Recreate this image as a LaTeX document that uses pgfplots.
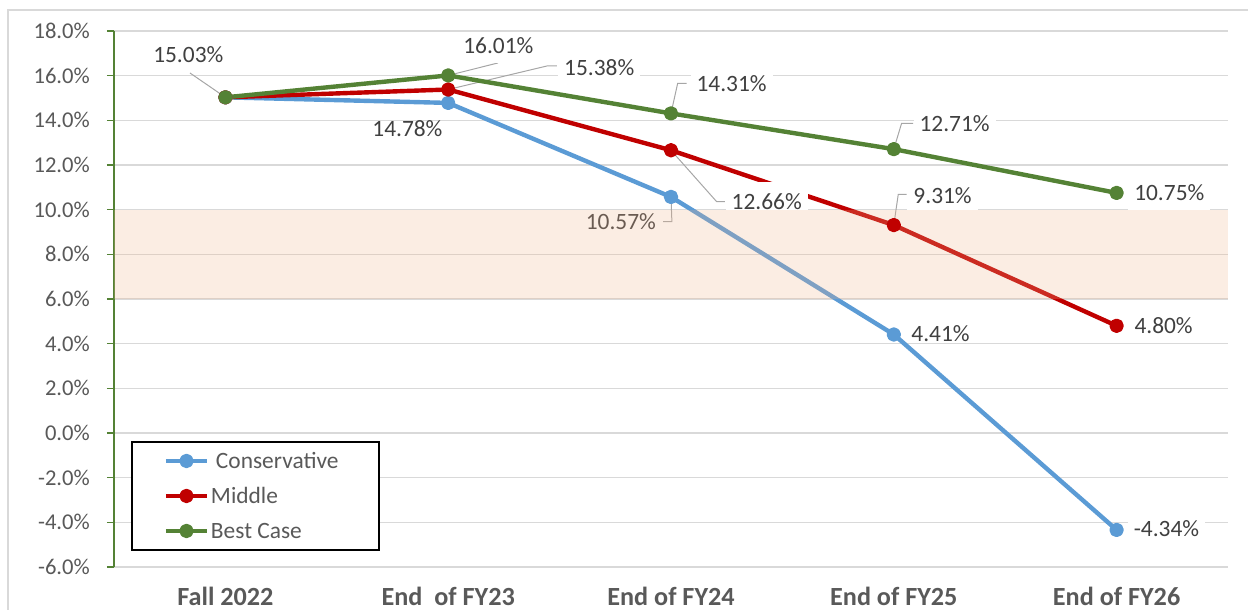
\documentclass[border=0pt]{standalone}
\usepackage{fontspec}
\setmainfont{Carlito}
\usepackage{pgfplots}
\pgfplotsset{compat=1.18}
\definecolor{cons}{HTML}{5B9BD5}
\definecolor{midc}{HTML}{C00000}
\definecolor{best}{HTML}{548235}
\definecolor{axgreen}{HTML}{548235}
\definecolor{gridgray}{HTML}{D9D9D9}
\definecolor{tickgray}{HTML}{595959}
\definecolor{labgray}{HTML}{404040}
\definecolor{leadgray}{HTML}{A6A6A6}
\definecolor{bandc}{RGB}{240,180,140}
\tikzset{
  dl/.style={fill=white, text=labgray, font=\fontsize{11.7pt}{14pt}\selectfont, inner xsep=3pt, inner ysep=0pt, text height=7.7pt, text depth=4.8pt, anchor=base, yshift=-3.7pt},
  dlb/.style={dl, text height=9.2pt},
  leader/.style={leadgray, line width=0.5pt},
}
\begin{document}
\begin{tikzpicture}
\path[use as bounding box] (-57pt,-21.5pt) rectangle (567pt,283.5pt);
\draw[gridgray, line width=0.75pt] (-53pt,-40pt) -- (-53pt,278.5pt) -- (620pt,278.5pt);
\begin{axis}[
  at={(0pt,0pt)}, anchor=south west,
  scale only axis, width=557pt, height=268pt,
  xmin=-0.5, xmax=4.5, ymin=-6, ymax=18,
  axis x line*=bottom, axis y line*=left,
  x axis line style={draw=none},
  y axis line style={draw=axgreen, line width=1pt},
  xtick={0,1,2,3,4},
  xticklabels={Fall 2022, End\ \ of FY23, End of FY24, End of FY25, End of FY26},
  xtick style={draw=none},
  xticklabel style={font=\fontsize{13.1pt}{15pt}\selectfont\bfseries, text=tickgray, anchor=base, inner sep=0pt, yshift=-15.85pt},
  ytick={-6,-4,...,18},
  ytick style={draw=axgreen, line width=0.75pt},
  tick align=outside, major tick length=3.5pt,
  yticklabel={\pgfmathprintnumber{\tick}\%},
  yticklabel style={font=\fontsize{11.3pt}{13pt}\selectfont, text=tickgray, anchor=east, inner sep=0pt, xshift=-8.4pt, /pgf/number format/.cd, fixed, fixed zerofill, precision=1, assume math mode=true},
  ymajorgrids, grid style={gridgray, line width=0.75pt},
  clip=false,
  legend style={at={(axis description cs:0.01526,0.2351)}, anchor=north west, draw=black, line width=1pt, fill=white, inner xsep=0pt, inner ysep=0.75pt, row sep=0pt, column sep=0pt, nodes={inner sep=0pt, text height=12.52pt, text depth=4.98pt, font=\fontsize{11.7pt}{14pt}\selectfont, text=tickgray}},
  legend cell align=left,
  legend image code/.code={
    \path[draw=none, fill=none] (-17pt,-8.75pt) rectangle (22.5pt,8.75pt);
    \draw[mark repeat=2,mark phase=2,#1] plot coordinates {(0pt,0pt) (10.25pt,0pt) (20.5pt,0pt)};
  },
]
% leader lines
\draw[leader] (axis cs:-0.159,16.12) -- (axis cs:0,15.03);
\draw[leader] (axis cs:1.2235,16.57) -- (axis cs:1,16.01);
\draw[leader] (axis cs:1.488,16.433) -- (axis cs:1.443,16.433) -- (axis cs:1,15.38);
\draw[leader] (axis cs:2.070,15.658) -- (axis cs:2.030,15.658) -- (axis cs:2,14.31);
\draw[leader] (axis cs:2,12.66) -- (axis cs:2.205,10.357) -- (axis cs:2.242,10.357);
\draw[leader] (axis cs:2,10.57) -- (axis cs:2.004,9.461) -- (axis cs:1.965,9.461);
\draw[leader] (axis cs:3,12.71) -- (axis cs:3.035,13.867) -- (axis cs:3.087,13.867);
\draw[leader] (axis cs:3,9.31) -- (axis cs:3.020,10.688) -- (axis cs:3.058,10.688);

\addplot[cons, line width=2.2pt, line join=round, mark=*, mark size=2.5pt] coordinates {(0,15.03) (1,14.78) (2,10.57) (3,4.41) (4,-4.34)};
\addlegendentry{\makebox[84pt][l]{\hspace{2.5pt}Conservative}}
\addplot[midc, line width=2.2pt, line join=round, mark=*, mark size=2.5pt] coordinates {(0,15.03) (1,15.38) (2,12.66) (3,9.31) (4,4.80)};
\addlegendentry{\makebox[84pt][l]{Middle}}
\addplot[best, line width=2.2pt, line join=round, mark=*, mark size=2.5pt] coordinates {(0,15.03) (1,16.01) (2,14.31) (3,12.71) (4,10.75)};
\addlegendentry{\makebox[84pt][l]{Best Case}}

% data labels
\node[dlb] at (axis cs:-0.1665,16.916) {15.03\%};
\node[dlb] at (axis cs:1.225,17.306) {16.01\%};
\node[dlb] at (axis cs:1.678,16.334) {15.38\%};
\node[dl] at (axis cs:0.817,13.603) {14.78\%};
\node[dlb] at (axis cs:2.272,15.618) {14.31\%};
\node[dl, text height=13.7pt] at (axis cs:2.4295,10.343) {12.66\%};
\node[dlb] at (axis cs:1.775,9.425) {10.57\%};
\node[dlb] at (axis cs:3.273,13.827) {12.71\%};
\node[dlb] at (axis cs:3.219,10.621) {9.31\%};
\node[dl] at (axis cs:4.2365,10.755) {10.75\%};
\node[dl, text depth=0pt, inner xsep=2pt] at (axis cs:3.210,4.424) {4.41\%};
\node[dl] at (axis cs:4.211,4.800) {4.80\%};
\node[dl] at (axis cs:4.224,-4.313) {-4.34\%};

% target band
\fill[bandc, fill opacity=0.24] (axis cs:-0.5,6) rectangle (axis cs:4.5,10);
\end{axis}
\end{tikzpicture}
\end{document}
